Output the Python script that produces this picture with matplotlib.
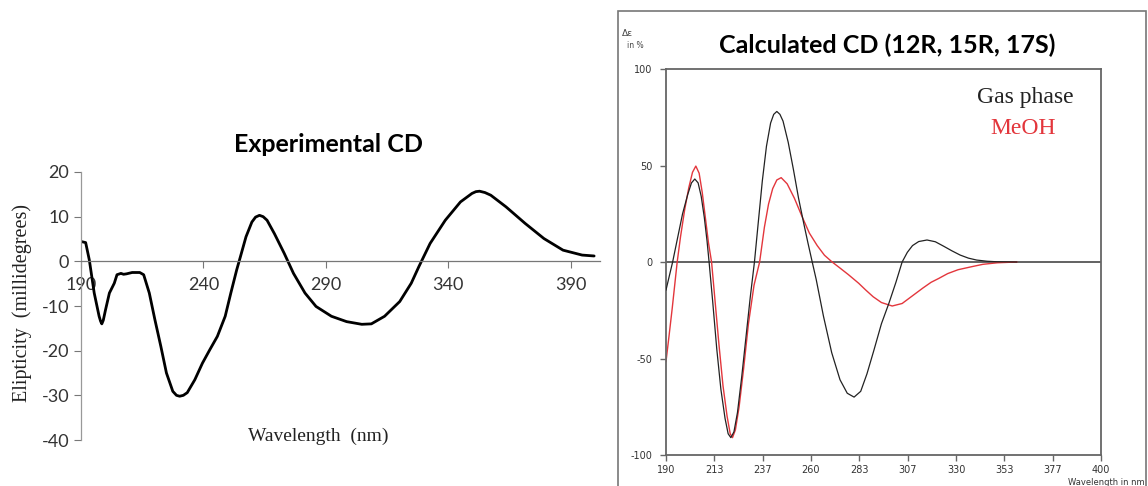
import numpy as np
import matplotlib
matplotlib.use('AGG')
import matplotlib.pyplot as plt
from matplotlib.patches import Rectangle

plt.rcParams['axes.unicode_minus'] = False

# experimental CD (left panel)
expWave = [190.3, 191.9, 193.4, 195.4, 197.4, 198.0, 198.5, 199.1, 200.0, 201.6, 203.6, 204.7,
           206.3, 207.4, 208.6, 210.9, 214.0, 215.6, 217.9, 220.2, 222.6, 224.9, 227.5, 229.0,
           230.3, 231.8, 233.4, 236.5, 239.6, 242.6, 245.7, 248.9, 251.2, 253.6, 255.1, 257.4,
           259.8, 261.3, 262.9, 264.4, 266.0, 269.0, 273.0, 276.8, 281.5, 286.0, 292.3, 298.5,
           304.7, 308.6, 314.0, 320.2, 324.9, 328.0, 332.6, 338.8, 345.0, 349.7, 351.3, 352.8,
           355.0, 357.4, 363.6, 371.4, 379.1, 386.9, 394.7, 399.6]
expCD = [4.4, 4.2, 0.3, -7.1, -12.3, -13.4, -14.0, -13.2, -10.9, -7.1, -4.9, -3.0,
         -2.7, -2.9, -2.8, -2.5, -2.5, -3.0, -7.1, -13.1, -19.0, -25.0, -29.1, -30.0,
         -30.2, -30.0, -29.4, -26.5, -22.8, -19.8, -16.8, -12.3, -7.1, -1.9, 1.0, 5.5,
         8.8, 9.9, 10.3, 10.0, 9.2, 6.2, 1.8, -2.7, -7.1, -10.1, -12.3, -13.5,
         -14.1, -14.0, -12.3, -9.0, -4.9, -1.2, 4.0, 9.2, 13.3, 15.2, 15.6, 15.7,
         15.4, 14.8, 12.2, 8.5, 5.1, 2.5, 1.4, 1.2]

# calculated CD (right panel)
gasWave = [190.0, 193.2, 195.5, 198.0, 200.5, 202.3, 203.9, 205.5, 207.0, 208.5, 209.8, 210.8,
           212.5, 214.5, 216.5, 218.5, 220.0, 221.3, 222.8, 224.5, 226.5, 228.5, 230.7, 232.7,
           234.5, 236.5, 238.5, 240.5, 242.0, 243.5, 245.0, 246.5, 249.0, 251.5, 254.0, 256.5,
           258.5, 260.8, 262.5, 266.0, 270.0, 274.0, 277.5, 280.8, 284.0, 287.0, 290.4, 294.0,
           297.6, 301.0, 304.0, 306.5, 309.0, 312.0, 316.0, 320.0, 324.0, 328.0, 332.0, 336.0,
           340.0, 345.0, 350.0, 359.3]
gasCD = [-14.5, 0.0, 12.0, 25.0, 35.0, 41.0, 43.0, 41.0, 34.0, 23.0, 11.0, 0.0,
         -20.0, -45.0, -66.0, -81.0, -89.0, -91.0, -88.0, -78.0, -60.0, -40.0, -18.0, 0.0,
         20.0, 42.0, 60.0, 72.0, 76.5, 78.0, 76.5, 73.0, 62.0, 48.0, 33.0, 20.0,
         10.0, -1.0, -9.0, -28.0, -47.0, -61.0, -68.0, -70.0, -67.0, -58.0, -45.6, -32.0,
         -21.4, -10.5, 0.0, 5.0, 8.5, 10.6, 11.4, 10.5, 8.2, 5.8, 3.6, 2.0,
         1.0, 0.4, 0.1, 0.0]
meohWave = [190.0, 191.5, 193.0, 194.3, 195.4, 197.0, 199.0, 201.0, 202.8, 204.4, 206.0, 207.5,
            209.0, 210.5, 212.0, 213.5, 215.5, 217.5, 219.5, 221.0, 222.1, 223.5, 225.3, 227.5,
            229.8, 232.5, 235.2, 237.5, 239.5, 241.5, 243.5, 245.6, 248.5, 252.0, 255.5, 259.2,
            263.0, 266.5, 270.2, 273.6, 278.0, 283.0, 286.4, 290.0, 294.0, 299.2, 304.0, 309.0,
            314.0, 318.0, 321.7, 326.0, 331.0, 337.7, 343.0, 350.0, 359.3]
meohCD = [-51.6, -38.0, -24.0, -11.0, 0.0, 13.0, 27.0, 38.5, 46.5, 49.7, 46.0, 36.0,
          23.0, 10.0, 0.0, -18.0, -42.0, -64.0, -80.0, -89.0, -91.0, -87.0, -75.0, -55.0,
          -32.0, -12.0, 0.0, 18.0, 30.0, 38.0, 42.5, 43.7, 40.5, 33.0, 24.0, 15.0,
          8.5, 3.5, 0.0, -2.8, -6.5, -11.0, -14.5, -18.0, -21.0, -22.8, -21.5, -17.5,
          -13.5, -10.5, -8.5, -6.0, -4.0, -2.4, -1.2, -0.4, 0.0]

expTicks = [190, 240, 290, 340, 390]
expYTicks = [-40, -30, -20, -10, 0, 10, 20]
calcTickLabels = ['190', '213', '237', '260', '283', '307', '330', '353', '377', '400']
calcYTicks = [-100, -50, 0, 50, 100]

W, H = 1148, 486
fig = plt.figure(figsize=(W / 100, H / 100), dpi=100)

def box(l, t, r, b):
    return [l / W, 1 - b / H, (r - l) / W, (b - t) / H]

# ---- left: experimental ----
ax1 = fig.add_axes(box(81, 172, 600, 440))
ax1.plot(expWave, expCD, color='black', lw=2.0, solid_capstyle='round', solid_joinstyle='round')
ax1.set_xlim(190, 402)
ax1.set_ylim(-40, 20)
for s in ['top', 'right']:
    ax1.spines[s].set_visible(False)
ax1.spines['bottom'].set_position(('data', 0))
ax1.spines['bottom'].set_color('#777777')
ax1.spines['left'].set_color('#999999')
ax1.spines['bottom'].set_linewidth(0.9)
ax1.spines['left'].set_linewidth(0.9)
ax1.set_xticks(expTicks)
ax1.set_yticks(expYTicks)
ax1.tick_params(axis='both', colors='#777777', labelcolor='#333333', length=5, width=0.8,
                labelsize=13)
ax1.tick_params(axis='x', pad=6)
for lab in ax1.get_xticklabels() + ax1.get_yticklabels():
    lab.set_family('Lato')
fig.text(328 / W, 1 - 144 / H, 'Experimental CD', family='Lato', fontweight='bold', fontsize=18,
         ha='center', va='center')
fig.text(22 / W, 1 - 303 / H, 'Elipticity  (millidegrees)', rotation=90, family='Liberation Serif',
         fontsize=14.5, ha='center', va='center', color='#222222')
fig.text(318 / W, 1 - 436 / H, 'Wavelength  (nm)', family='Liberation Serif', fontsize=14,
         ha='center', va='center', color='#222222')

# ---- right: calculated ----
fig.patches.append(Rectangle((618 / W, 1 - 492 / H), (1146 - 618) / W, (492 - 11) / H,
                             transform=fig.transFigure, fill=False, edgecolor='#777777', lw=1.2))
ax2 = fig.add_axes(box(666, 69, 1101, 455))
ax2.axhline(0, color='#555555', lw=1.3, zorder=1)
ax2.plot(gasWave, gasCD, color='#222222', lw=0.9, zorder=3, solid_joinstyle='round')
ax2.plot(meohWave, meohCD, color='#e3363c', lw=1.0, zorder=2, solid_joinstyle='round')
ax2.set_xlim(190, 400)
ax2.set_ylim(-100, 100)
ax2.set_xticks(np.linspace(190, 400, 10))
ax2.set_xticklabels(calcTickLabels)
ax2.set_yticks(calcYTicks)
for s in ax2.spines.values():
    s.set_color('#666666')
    s.set_linewidth(1.3)
ax2.tick_params(axis='both', colors='#666666', labelcolor='#333333', length=4, width=1.0,
                labelsize=7)
ax2.tick_params(axis='y', pad=6)
fig.text(887 / W, 1 - 45 / H, 'Calculated CD (12R, 15R, 17S)', family='Lato', fontweight='bold',
         fontsize=18, ha='center', va='center')
fig.text(1025 / W, 1 - 98 / H, 'Gas phase', family='Liberation Serif', fontsize=17,
         ha='center', va='center', color='#222222')
fig.text(1023 / W, 1 - 128 / H, 'MeOH', family='Liberation Serif', fontsize=17,
         ha='center', va='center', color='#e3363c')
fig.text(1145 / W, 1 - 482 / H, 'Wavelength in nm', fontsize=6, ha='right', va='center',
         color='#333333')
fig.text(627 / W, 1 - 34 / H, 'Δε', fontsize=6.5, ha='center', va='center', color='#444444')
fig.text(635 / W, 1 - 45 / H, 'in %', fontsize=5.5, ha='center', va='center', color='#444444')

plt.savefig('out.png', dpi=100)
